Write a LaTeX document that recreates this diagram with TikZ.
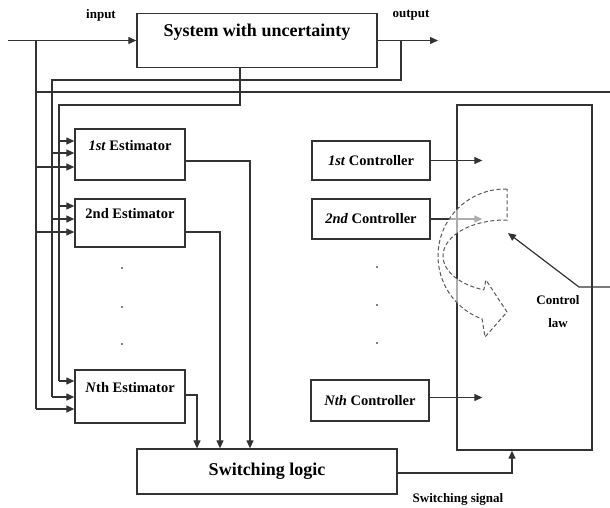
\documentclass[tikz,border=0pt]{standalone}
\usepackage{fontspec}
\setmainfont{Liberation Serif}
\usetikzlibrary{arrows.meta}

\tikzset{
  blk/.style={draw=black!80, line width=1.3pt, inner sep=0pt},
  wire/.style={draw=black!80, line width=1.2pt},
  arr/.style={wire, -{Triangle[length=8pt,width=7pt]}},
  big/.style={font=\fontsize{18}{20}\selectfont\bfseries},
  mid/.style={font=\fontsize{14.5}{17}\selectfont\bfseries},
  lbl/.style={font=\fontsize{13}{15}\selectfont\bfseries},
  turnarr/.style={draw=black!65, line width=1pt, dash pattern=on 4pt off 2.5pt,
    fill=white, fill opacity=0.6},
}

\begin{document}
\begin{tikzpicture}[x=1pt,y=-1pt]
\useasboundingbox (0,0) rectangle (610,507);

% plant
\node[blk, minimum width=240pt, minimum height=54pt] (sys) at (257,40.5) {};
\node[big] (systxt) at (257,32) {System with uncertainty};
\node[lbl] (inlbl) at (101,15) {input};
\node[lbl] (outlbl) at (411,15) {output};

% estimators
\node[blk, minimum width=110pt, minimum height=51pt] (est1) at (130,154.5) {};
\node[mid] (est1txt) at (130,146) {\textit{1st} Estimator};
\node[blk, minimum width=110pt, minimum height=48pt] (est2) at (130,223) {};
\node[mid] (est2txt) at (130,214) {2nd Estimator};
\node[blk, minimum width=110pt, minimum height=53pt] (estN) at (130,396.5) {};
\node[mid] (estNtxt) at (130,388) {\textit{N}th Estimator};

% controllers
\node[blk, mid, minimum width=118pt, minimum height=39pt] (ctl1) at (371,160.5) {\textit{1st} Controller};
\node[blk, mid, minimum width=118pt, minimum height=40pt] (ctl2) at (371,219) {\textit{2nd} Controller};
\node[blk, mid, minimum width=118pt, minimum height=41pt] (ctlN) at (370,400.5) {\textit{Nth} Controller};

\node[blk, minimum width=135pt, minimum height=345pt] (law) at (524.5,277.5) {};
\node[lbl] (lawtxt1) at (558,300) {Control};
\node[lbl] (lawtxt2) at (558,323) {law};

\node[blk, big, minimum width=260pt, minimum height=45pt] (sw) at (267,471.5) {Switching logic};
\node[lbl] (swlbl) at (458,499) {Switching signal};

% plant in/out
\coordinate (in) at (8,40.5);
\coordinate (out) at (438,40.5);
\draw[arr] (in) -- (sys.west);
\draw[arr] (sys.east) -- (out);

% feed lines
\draw[wire] (36,40.5) -- (36,409);
\draw[wire] (36,92) -- (610,92);
\draw[wire] (401,40.5) -- (401,80) -- (52,80) -- (52,397);
\draw[wire] ([xshift=-17pt]sys.south) |- (59,105) -- (59,381);

\foreach \x/\y in {59/141,52/153,36/167}
  \draw[arr] (\x,\y) -- (\x,\y -| est1.west);
\foreach \x/\y in {59/206,52/219,36/232}
  \draw[arr] (\x,\y) -- (\x,\y -| est2.west);
\foreach \x/\y in {59/381,52/397,36/409}
  \draw[arr] (\x,\y) -- (\x,\y -| estN.west);

% estimators to switching logic
\draw[arr] ([yshift=-6.5pt]est1.east) -| ([xshift=-17pt]sw.north);
\draw[arr] ([yshift=-9pt]est2.east) -| ([xshift=-47pt]sw.north);
\draw[arr] ([yshift=1.5pt]estN.east) -| ([xshift=-70pt]sw.north);

% dots
\foreach \y in {268,307,344} \fill (122,\y) circle (0.8pt);
\foreach \y in {267,305,343} \fill (377,\y) circle (0.8pt);

% controllers into control law
\coordinate (tip) at ([xshift=26pt]law.west);
\coordinate (ctlNout) at ([yshift=3pt]ctlN.east);
\draw[arr] (ctl1.east) -- (tip |- ctl1.east);
\draw[arr] (ctl2.east) -- (tip |- ctl2.east);
\draw[arr] (ctlNout) -- (tip |- ctlNout);

% switching signal
\draw[arr] ([yshift=-1.5pt]sw.east) -| ([xshift=-12.5pt]law.south);

% control out
\coordinate (ctlin) at (610,287);
\coordinate (bend) at (579,287);
\coordinate (ctlend) at (508,233);
\draw[arr] (ctlin) -- (bend) -- (ctlend);

% turning arrow
\path[turnarr] (507,189)
  -- plot[domain=90:250, samples=40] ({505+67*cos(\x)},{256-67*sin(\x)})
  -- (485,337) -- (507,312) -- (486,280)
  -- plot[domain=250:90, samples=40] ({505+62*cos(\x)},{256-36*sin(\x)})
  -- (507,220) -- cycle;
\end{tikzpicture}
\end{document}
